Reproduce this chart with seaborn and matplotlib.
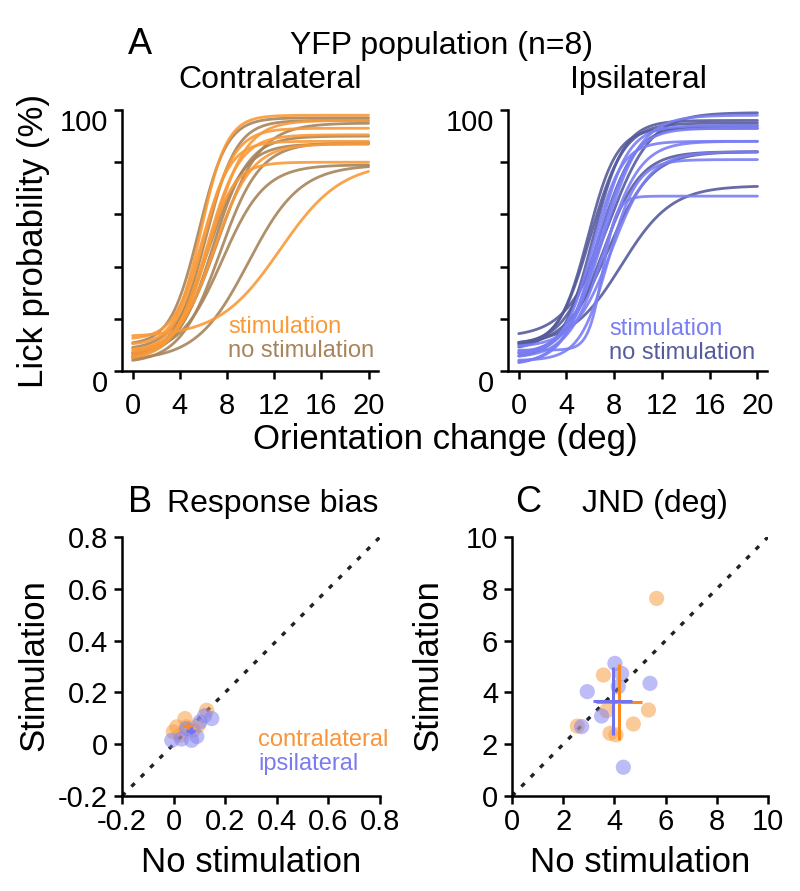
import numpy as np
import pandas as pd
import matplotlib
matplotlib.use("Agg")
import matplotlib.pyplot as plt
import matplotlib.transforms as mtransforms
import seaborn as sns

sns.set_theme(style="ticks")
plt.rcParams['font.family'] = ['Liberation Sans', 'DejaVu Sans']
plt.rcParams['text.color'] = 'black'

# ---------------- data ----------------
# Panel A: fitted psychometric curves, parameters per mouse
# y = bottom + (top - bottom) / (1 + exp(-(x - mid) / spread))
contra_stim_bottom = [10, 7, 5, 12, 8, 13, 4, 6]
contra_stim_top    = [98, 93, 90.5, 88, 80, 80, 96, 87]
contra_stim_mid    = [5.8, 6.0, 6.3, 5.9, 6.2, 12.5, 6.6, 6.9]
contra_stim_spread = [1.1, 1.3, 1.4, 1.2, 1.2, 2.6, 1.5, 1.6]

contra_nostim_bottom = [6, 4, 8, 3, 6, 4, 10, 5]
contra_nostim_top    = [96, 95, 87, 87.5, 79, 79, 97, 90]
contra_nostim_mid    = [6.2, 7.2, 6.5, 7.4, 7.6, 9.8, 5.6, 6.8]
contra_nostim_spread = [1.3, 1.8, 1.5, 1.7, 1.8, 2.2, 1.2, 1.5]

ipsi_stim_bottom = [3, 5, 8, 4, 6, 2, 7, 9]
ipsi_stim_top    = [94, 88, 67, 81, 93, 98, 88, 84]
ipsi_stim_mid    = [6.5, 7.2, 7.0, 7.5, 6.8, 7.0, 6.2, 7.8]
ipsi_stim_spread = [1.3, 1.5, 0.6, 1.2, 1.4, 1.6, 1.2, 1.6]

ipsi_nostim_bottom = [13, 8, 10, 6, 9, 10, 5, 10]
ipsi_nostim_top    = [99, 95, 94, 84, 84, 71, 96, 93]
ipsi_nostim_mid    = [7.5, 6.0, 6.8, 7.0, 7.5, 8.6, 6.2, 5.8]
ipsi_nostim_spread = [1.8, 1.4, 1.5, 1.6, 1.8, 2.1, 1.3, 1.2]

orientation_ticks = [0, 4, 8, 12, 16, 20]

# Panel B: response bias (x = no stimulation, y = stimulation)
bias_contra_nostim = [0.128, 0.044, 0.012, -0.001, 0.050, 0.076, 0.025, 0.096]
bias_contra_stim   = [0.131, 0.099, 0.067, 0.048, 0.067, 0.054, 0.035, 0.073]
bias_ipsi_nostim   = [0.148, -0.007, 0.070, 0.102, 0.031, 0.090, 0.050, 0.120]
bias_ipsi_stim     = [0.099, 0.015, 0.015, 0.086, 0.020, 0.030, 0.060, 0.110]
bias_contra_mean = [0.054, 0.072]; bias_contra_err = [0.016, 0.012]
bias_ipsi_mean   = [0.066, 0.052]; bias_ipsi_err   = [0.017, 0.013]

# Panel C: JND (deg)
jnd_contra_nostim = [5.65, 3.57, 5.33, 4.74, 2.55, 3.83, 4.06, 3.70]
jnd_contra_stim   = [7.63, 4.67, 3.32, 2.78, 2.70, 2.42, 2.36, 3.30]
jnd_ipsi_nostim   = [4.02, 4.28, 4.15, 2.94, 5.39, 3.50, 2.72, 4.35]
jnd_ipsi_stim     = [5.12, 4.73, 4.22, 4.03, 4.35, 3.09, 2.68, 1.11]
jnd_contra_mean = [4.18, 3.63]; jnd_contra_err = [0.90, 1.45]
jnd_ipsi_mean   = [3.93, 3.67]; jnd_ipsi_err   = [0.75, 1.30]

# ---------------- colours ----------------
C_STIM = '#F99A38'
C_NOSTIM = '#A8845A'
I_STIM = '#7A7EF4'
I_NOSTIM = '#565B9C'
PT_CONTRA = '#F7A045'
PT_IPSI = '#8585F2'

W, H = 800, 891
fig = plt.figure(figsize=(W / 100, H / 100), dpi=100)


def ax_at(x0, y0, x1, y1):
    return fig.add_axes([x0 / W, 1 - y1 / H, (x1 - x0) / W, (y1 - y0) / H])


def ftext(x, y, s, **kw):
    kw.setdefault('color', 'black')
    fig.text(x / W, 1 - y / H, s, **kw)


def curves_df(bottom, top, mid, spread, label):
    xs = np.linspace(0, 20, 300)
    rows = []
    for i, (b, t, m, s) in enumerate(zip(bottom, top, mid, spread)):
        ys = b + (t - b) / (1 + np.exp(-(xs - m) / s))
        rows.append(pd.DataFrame({'x': xs, 'y': ys, 'mouse': i, 'cond': label}))
    return pd.concat(rows, ignore_index=True)


def style_axes(ax, xpad=3, ypad=4, size=21):
    for sp in ['top', 'right']:
        ax.spines[sp].set_visible(False)
    for sp in ['left', 'bottom']:
        ax.spines[sp].set_linewidth(1.8)
        ax.spines[sp].set_color('black')
    ax.tick_params(axis='both', length=6, width=1.8, colors='black',
                   labelsize=size, direction='out')
    ax.tick_params(axis='y', pad=ypad)
    ax.tick_params(axis='x', pad=xpad)
    ax.set_xlabel('')
    ax.set_ylabel('')
    ax.grid(False)


# ---------------- Panel A ----------------
axes_A = [ax_at(122, 110, 378, 371), ax_at(508, 110, 767, 371)]
panels = [
    (curves_df(contra_stim_bottom, contra_stim_top, contra_stim_mid, contra_stim_spread, 'stim'),
     curves_df(contra_nostim_bottom, contra_nostim_top, contra_nostim_mid, contra_nostim_spread, 'nostim'),
     C_STIM, C_NOSTIM),
    (curves_df(ipsi_stim_bottom, ipsi_stim_top, ipsi_stim_mid, ipsi_stim_spread, 'stim'),
     curves_df(ipsi_nostim_bottom, ipsi_nostim_top, ipsi_nostim_mid, ipsi_nostim_spread, 'nostim'),
     I_STIM, I_NOSTIM),
]
shift_down = mtransforms.ScaledTranslation(0, -10 / 100, fig.dpi_scale_trans)
for ax, (dstim, dnostim, cs, cn) in zip(axes_A, panels):
    for sub, col in [(dnostim, cn), (dstim, cs)]:
        sns.lineplot(data=sub, x='x', y='y', units='mouse', estimator=None,
                     color=col, lw=2.0, alpha=0.9, ax=ax, legend=False)
    ax.set_xlim(-0.9, 20.8)
    ax.set_ylim(0, 100)
    ax.set_xticks(orientation_ticks)
    ax.set_xticklabels([str(t) for t in orientation_ticks])
    ax.set_yticks([0, 20, 40, 60, 80, 100])
    ax.set_yticklabels(['0', '', '', '', '', '100'])
    style_axes(ax, xpad=9)
    for lab in ax.get_yticklabels():
        lab.set_transform(lab.get_transform() + shift_down)

# Panel A text
ftext(140, 44, 'A', fontsize=26, ha='center', va='center')
ftext(442, 46, 'YFP population (n=8)', fontsize=23, ha='center', va='center')
ftext(270, 80, 'Contralateral', fontsize=23, ha='center', va='center')
ftext(638, 80, 'Ipsilateral', fontsize=23, ha='center', va='center')
ftext(34, 241, 'Lick probability (%)', fontsize=25, rotation=90, ha='center', va='center')
ftext(445, 440, 'Orientation change (deg)', fontsize=25, ha='center', va='center')
ftext(228, 327, 'stimulation', fontsize=17, color=C_STIM, ha='left', va='center')
ftext(228, 351, 'no stimulation', fontsize=17, color=C_NOSTIM, ha='left', va='center')
ftext(609, 329, 'stimulation', fontsize=17, color=I_STIM, ha='left', va='center')
ftext(609, 353, 'no stimulation', fontsize=17, color=I_NOSTIM, ha='left', va='center')

# ---------------- Panel B / C scatter ----------------
def scatter_panel(ax, cx, cy, ix, iy, cmean, cerr, imean, ierr, lim, ticks, ticklabels):
    ax.plot([lim[0], lim[1]], [lim[0], lim[1]], ls=(0, (1.4, 2.6)), lw=2.4,
            color='#222222', zorder=1)
    dfc = pd.DataFrame({'x': cx, 'y': cy})
    dfi = pd.DataFrame({'x': ix, 'y': iy})
    sns.scatterplot(data=dfc, x='x', y='y', color=PT_CONTRA, alpha=0.55, s=120,
                    edgecolor='none', ax=ax, zorder=2)
    sns.scatterplot(data=dfi, x='x', y='y', color=PT_IPSI, alpha=0.55, s=120,
                    edgecolor='none', ax=ax, zorder=3)
    ax.errorbar([cmean[0]], [cmean[1]], xerr=[cerr[0]], yerr=[cerr[1]], fmt='none',
                ecolor='#FF8A1C', elinewidth=2.2, capsize=0, zorder=4)
    ax.errorbar([imean[0]], [imean[1]], xerr=[ierr[0]], yerr=[ierr[1]], fmt='none',
                ecolor='#7373EE', elinewidth=2.2, capsize=0, zorder=5)
    ax.set_xlim(*lim)
    ax.set_ylim(*lim)
    ax.set_xticks(ticks)
    ax.set_xticklabels(ticklabels)
    ax.set_yticks(ticks)
    ax.set_yticklabels(ticklabels)
    style_axes(ax)


axB = ax_at(122, 537, 380, 796)
bt = [-0.2, 0, 0.2, 0.4, 0.6, 0.8]
scatter_panel(axB, bias_contra_nostim, bias_contra_stim, bias_ipsi_nostim, bias_ipsi_stim,
              bias_contra_mean, bias_contra_err, bias_ipsi_mean, bias_ipsi_err,
              (-0.2, 0.8), bt, ['-0.2', '0', '0.2', '0.4', '0.6', '0.8'])

axC = ax_at(512, 537, 768, 796)
ct = [0, 2, 4, 6, 8, 10]
scatter_panel(axC, jnd_contra_nostim, jnd_contra_stim, jnd_ipsi_nostim, jnd_ipsi_stim,
              jnd_contra_mean, jnd_contra_err, jnd_ipsi_mean, jnd_ipsi_err,
              (0, 10), ct, [str(t) for t in ct])

ftext(140, 503, 'B', fontsize=26, ha='center', va='center')
ftext(273, 504, 'Response bias', fontsize=23, ha='center', va='center')
ftext(528, 503, 'C', fontsize=26, ha='center', va='center')
ftext(655, 504, 'JND (deg)', fontsize=23, ha='center', va='center')
ftext(34, 665, 'Stimulation', fontsize=25, rotation=90, ha='center', va='center')
ftext(428, 665, 'Stimulation', fontsize=25, rotation=90, ha='center', va='center')
ftext(251, 862, 'No stimulation', fontsize=25, ha='center', va='center')
ftext(640, 862, 'No stimulation', fontsize=25, ha='center', va='center')
ftext(258, 740, 'contralateral', fontsize=17, color='#F9943A', ha='left', va='center')
ftext(258, 764, 'ipsilateral', fontsize=17, color='#7B7BF0', ha='left', va='center')

fig.savefig('out.png', dpi=100)
